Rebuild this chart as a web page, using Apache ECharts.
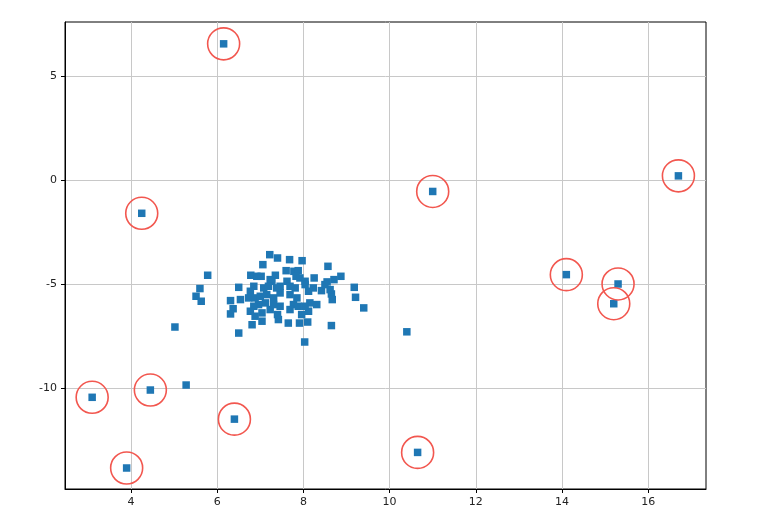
<!DOCTYPE html>
<html><head><meta charset="utf-8">
<script src="https://cdn.jsdelivr.net/npm/echarts@6/dist/echarts.min.js"></script>
<style>html,body{margin:0;padding:0;background:#fff}#c{width:768px;height:517px}</style>
</head><body><div id="c"></div>
<script>
const clusterX = [7.22,7.40,7.68,7.97,7.06,8.57,5.78,5.60,5.51,5.63,6.50,6.31,6.54,6.37,6.31,6.50,6.78,6.92,7.02,7.23,7.35,7.60,7.78,7.88,7.83,7.92,8.04,8.25,8.55,8.71,8.87,9.18,9.21,9.40,8.65,8.03,6.85,7.08,7.27,7.46,7.62,7.81,8.04,8.23,8.42,8.65,8.67,8.31,8.15,8.12,7.96,7.91,8.10,7.65,7.42,7.40,7.23,7.04,6.88,6.81,6.77,6.73,6.88,7.00,7.15,7.31,7.46,7.69,7.85,7.77,7.88,7.69,7.46,7.31,7.12,6.96,6.85,7.04,8.04,8.62,8.50,7.38,7.69,7.19,6.77,8.12,5.02,5.28,10.40];
const clusterY = [-3.59,-3.75,-3.83,-3.88,-4.07,-4.15,-4.58,-5.22,-5.59,-5.83,-5.16,-5.80,-5.75,-6.19,-6.44,-7.36,-4.58,-4.63,-4.63,-4.79,-4.58,-4.36,-4.39,-4.36,-4.63,-4.71,-4.87,-4.71,-4.90,-4.79,-4.63,-5.16,-5.64,-6.15,-7.00,-7.79,-5.11,-5.19,-4.87,-5.11,-4.87,-5.19,-5.03,-5.19,-5.32,-5.48,-5.75,-5.99,-5.91,-6.31,-6.47,-6.88,-6.83,-6.88,-6.71,-6.47,-6.23,-6.39,-6.55,-6.96,-6.31,-5.67,-5.67,-5.59,-5.51,-5.67,-5.43,-5.51,-5.67,-5.99,-6.07,-6.23,-6.07,-5.99,-5.91,-5.99,-6.07,-6.79,-6.07,-5.27,-5.03,-5.19,-5.11,-5.11,-5.35,-5.35,-7.07,-9.86,-7.30];
const outlierX = [6.15,4.25,11.0,16.7,14.1,15.3,15.2,3.1,4.45,6.4,10.65,3.9];
const outlierY = [6.55,-1.6,-0.55,0.2,-4.55,-5.0,-5.95,-10.45,-10.1,-11.5,-13.1,-13.85];
const xTicks = [4,6,8,10,12,14,16];
const yTicks = [-10,-5,0,5];

const allX = clusterX.concat(outlierX), allY = clusterY.concat(outlierY);
const pts = allX.map((x,i)=>[x,allY[i]]);
const outs = outlierX.map((x,i)=>[x,outlierY[i]]);
const font = {color:'#222',fontSize:11,fontFamily:'DejaVu Sans'};
const chart = echarts.init(document.getElementById('c'));
chart.setOption({
  animation:false,
  grid:{left:65,right:62,top:22,bottom:28,show:true,borderColor:'#000',borderWidth:1},
  xAxis:{type:'value',min:2.47,max:17.34,
    axisLine:{onZero:false,lineStyle:{color:'#000'}},
    axisTick:{customValues:xTicks,length:4,lineStyle:{color:'#000'}},
    axisLabel:Object.assign({customValues:xTicks},font),
    splitLine:{show:true,lineStyle:{color:'#c8c8c8'}}},
  yAxis:{type:'value',min:-14.86,max:7.6,
    axisLine:{show:true,onZero:false,lineStyle:{color:'#000'}},
    axisTick:{show:true,customValues:yTicks,length:4,lineStyle:{color:'#000'}},
    axisLabel:Object.assign({customValues:yTicks},font),
    splitLine:{show:true,lineStyle:{color:'#c8c8c8'}}},
  series:[
    {type:'scatter',data:pts,symbol:'rect',symbolSize:7.5,itemStyle:{color:'#1f77b4',opacity:1},z:2},
    {type:'scatter',data:outs,symbol:'circle',symbolSize:32,
     itemStyle:{color:'none',borderColor:'#f2574f',borderWidth:1.6,opacity:1},z:3}
  ]
});
</script></body></html>
